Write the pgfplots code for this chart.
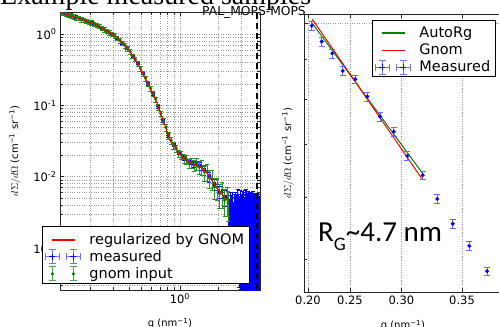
\documentclass[border=0pt]{standalone}
\usepackage{pgfplots}
\pgfplotsset{compat=1.18}
\usepackage{pgfplotstable}
\usepackage{fontspec}
\setmainfont{DejaVu Sans}
\newfontfamily\titlefont{Liberation Serif}
\newfontfamily\calfont{Carlito}
\definecolor{mplblue}{rgb}{0,0,1}
\definecolor{mplgreen}{rgb}{0,0.5,0}
\definecolor{mplred}{rgb}{1,0,0}

% regularized by GNOM (left)
\pgfplotstableread{
q I
0.1175 2.02
0.1230 1.963
0.1288 1.905
0.1349 1.849
0.1413 1.795
0.1479 1.744
0.1549 1.694
0.1622 1.648
0.1698 1.603
0.1778 1.560
0.1862 1.517
0.1950 1.476
0.2042 1.435
0.2138 1.396
0.2239 1.337
0.2344 1.274
0.2455 1.213
0.2570 1.156
0.2692 1.102
0.2818 1.048
0.2951 0.998
0.3090 0.951
0.3236 0.879
0.3388 0.809
0.3548 0.745
0.3715 0.686
0.3890 0.631
0.4074 0.564
0.4266 0.497
0.4467 0.439
0.4677 0.388
0.4898 0.331
0.5129 0.281
0.5370 0.239
0.5623 0.202
0.5888 0.1714
0.6166 0.1452
0.6457 0.1211
0.6761 0.0962
0.7079 0.0766
0.7413 0.0607
0.7762 0.0481
0.8128 0.0381
0.8511 0.0316
0.8913 0.0279
0.9333 0.0246
0.9772 0.0217
1.0233 0.0197
1.0715 0.0184
1.1220 0.01718
1.1749 0.0160
1.2303 0.01535
1.2882 0.0149
1.3490 0.01449
1.4125 0.01406
1.4791 0.01318
1.5488 0.01213
1.6218 0.01117
1.6982 0.01007
1.7783 0.00883
1.8621 0.00774
1.9498 0.00684
2.0417 0.00621
2.1380 0.00564
2.2387 0.00512
2.3442 0.00465
2.3820 0.00449
}\gnomfit

% gnom input (left)
\pgfplotstableread{
q I e
0.1175 2.04 0.07
0.1230 1.95 0.07
0.1288 1.92 0.07
0.1349 1.84 0.07
0.1413 1.80 0.07
0.1479 1.75 0.07
0.1549 1.69 0.07
0.1622 1.66 0.07
0.1698 1.60 0.07
0.1778 1.57 0.07
0.1862 1.51 0.07
0.1950 1.48 0.07
0.2042 1.44 0.07
0.2138 1.39 0.07
0.2239 1.34 0.07
0.2344 1.28 0.07
0.2455 1.21 0.07
0.2570 1.16 0.07
0.2692 1.10 0.07
0.2818 1.05 0.07
0.2951 0.995 0.07
0.3090 0.955 0.07
0.3236 0.875 0.07
0.3388 0.812 0.07
0.3548 0.742 0.07
0.3715 0.690 0.07
0.3890 0.628 0.07
0.4074 0.567 0.07
0.4266 0.494 0.07
0.4467 0.441 0.07
0.4677 0.386 0.07
0.4898 0.333 0.08
0.5129 0.279 0.08
0.5370 0.241 0.08
0.5623 0.200 0.08
0.5888 0.1730 0.08
0.6166 0.1440 0.08
0.6457 0.1222 0.08
0.6761 0.0955 0.09
0.7079 0.0772 0.09
0.7413 0.0600 0.09
0.7762 0.0488 0.10
0.8128 0.0376 0.10
0.8511 0.0321 0.11
0.8913 0.0274 0.11
0.9333 0.0250 0.12
0.9772 0.0213 0.12
1.0233 0.0201 0.13
1.0715 0.0180 0.13
1.1220 0.0176 0.14
1.1749 0.0155 0.15
1.2303 0.0158 0.16
1.2882 0.0144 0.17
1.3490 0.0151 0.19
1.4125 0.0136 0.21
1.4791 0.0138 0.23
1.5488 0.0117 0.25
1.6218 0.0118 0.27
1.6982 0.0096 0.29
1.7783 0.0093 0.31
1.8621 0.0072 0.33
1.9498 0.0071 0.35
2.0417 0.0058 0.37
2.1380 0.0060 0.39
2.2387 0.0047 0.41
2.3442 0.0049 0.43
2.3820 0.0043 0.45
}\gnominput

% measured (left)
\pgfplotstableread{
q I ex ey
0.1175 2.07 0.02 0.04
0.1288 1.95 0.02 0.04
0.1413 1.83 0.02 0.04
0.1549 1.72 0.02 0.04
0.1698 1.63 0.02 0.04
0.1862 1.54 0.02 0.04
0.2042 1.45 0.02 0.04
0.2239 1.35 0.02 0.04
0.2455 1.22 0.02 0.04
0.2692 1.11 0.02 0.04
0.2951 1.00 0.02 0.04
0.3236 0.885 0.02 0.04
0.3548 0.748 0.02 0.04
0.3890 0.634 0.02 0.04
0.4266 0.500 0.02 0.04
0.4677 0.390 0.02 0.04
0.5129 0.283 0.02 0.04
0.5623 0.203 0.02 0.04
0.6166 0.1460 0.02 0.05
0.6761 0.0970 0.02 0.05
0.7413 0.0612 0.02 0.05
0.8128 0.0384 0.02 0.06
0.8913 0.0281 0.02 0.06
0.9772 0.0219 0.02 0.07
1.0715 0.0186 0.02 0.08
1.1749 0.0162 0.02 0.09
1.2882 0.0150 0.02 0.10
1.4125 0.0142 0.02 0.12
1.5488 0.0122 0.02 0.14
1.6982 0.0101 0.02 0.16
1.8621 0.0078 0.02 0.18
2.0417 0.0062 0.02 0.20
2.2387 0.0051 0.02 0.25
2.40 0.0036 0.01 0.55
2.43 0.0030 0.01 0.60
2.46 0.0039 0.01 0.55
2.49 0.0028 0.01 0.65
2.52 0.0034 0.01 0.60
2.55 0.0031 0.01 0.65
2.58 0.0037 0.01 0.65
2.61 0.0026 0.01 0.70
2.64 0.0033 0.01 0.70
2.67 0.0029 0.01 0.75
2.70 0.0035 0.01 0.75
2.73 0.0027 0.01 0.80
2.76 0.0032 0.01 0.80
2.79 0.0030 0.01 0.80
2.82 0.0036 0.01 0.85
2.85 0.0025 0.01 0.85
2.88 0.0031 0.01 0.85
2.91 0.0028 0.01 0.90
2.94 0.0034 0.01 0.90
2.97 0.0026 0.01 0.90
3.00 0.0030 0.01 0.92
3.03 0.0027 0.01 0.92
3.06 0.0033 0.01 0.92
3.09 0.0025 0.01 0.94
3.12 0.0029 0.01 0.94
3.15 0.0031 0.01 0.94
3.18 0.0026 0.01 0.95
3.21 0.0033 0.01 0.95
3.24 0.0028 0.01 0.95
3.27 0.0024 0.01 0.96
3.30 0.0034 0.01 0.96
3.33 0.0027 0.01 0.96
3.36 0.0030 0.01 0.96
3.39 0.0025 0.01 0.97
3.42 0.0032 0.01 0.97
3.45 0.0028 0.01 0.97
3.48 0.0023 0.01 0.97
3.51 0.0030 0.01 0.97
3.54 0.0026 0.01 0.97
3.57 0.0031 0.01 0.97
3.60 0.0024 0.01 0.97
3.63 0.0029 0.01 0.97
3.66 0.0027 0.01 0.97
3.69 0.0032 0.01 0.97
3.72 0.0022 0.01 0.97
3.75 0.0028 0.01 0.97
3.78 0.0025 0.01 0.97
3.81 0.0030 0.01 0.97
3.84 0.0023 0.01 0.97
3.87 0.0027 0.01 0.97
3.90 0.0029 0.01 0.97
3.93 0.0024 0.01 0.97
3.96 0.0026 0.01 0.97
3.99 0.0030 0.01 0.97
4.02 0.0023 0.01 0.97
4.05 0.0027 0.01 0.97
4.08 0.0025 0.01 0.97
4.11 0.0029 0.01 0.97
4.14 0.0024 0.01 0.97
4.17 0.0026 0.01 0.97
}\measured

% Guinier region (right)
\pgfplotstableread{
q I e
0.2049 0.992 0.013
0.2176 0.947 0.013
0.2303 0.915 0.013
0.2421 0.869 0.013
0.2556 0.848 0.013
0.2679 0.806 0.013
0.2803 0.760 0.013
0.2931 0.727 0.013
0.3053 0.677 0.013
0.3185 0.640 0.013
0.3305 0.597 0.013
0.3428 0.555 0.013
0.3555 0.520 0.013
0.3686 0.483 0.013
}\guinier

\pgfplotstableread{
q I
0.2057 0.999
0.3195 0.640
}\autorg

\pgfplotstableread{
q I
0.2057 1.011
0.3176 0.634
}\gnomline

\pgfplotsset{
  log number format basis/.code 2 args={#1\textsuperscript{\pgfmathprintnumber[assume math mode=true]{#2}}},
}
\newcommand{\legline}[1]{\hspace*{-37pt}\textcolor{#1}{\rule[0.24em]{23pt}{1.2pt}}\hspace*{14pt}}
\pgfplotsset{
  dummyimg/.style={legend image code/.code={%
    \path[draw=white, line width=0.1pt] (0pt,0pt)--(0.1pt,0pt);}},
  blankimg/.style={legend image code/.code={%
    \path[draw=none, fill=none] (-8pt,-8pt) rectangle (30pt,8pt);}},
  redlineimg/.style={legend image code/.code={%
    \path[draw=none, fill=none] (-8pt,-8pt) rectangle (30pt,8pt);
    \path[fill=mplred, draw=none] (0pt,-0.6pt) rectangle (23pt,0.6pt);}},
  measuredimg/.style={legend image code/.code={%
    \path[draw=none, fill=none] (-8pt,-8pt) rectangle (30pt,8pt);
    \foreach \xx in {0pt,21pt}{
      \draw[draw=mplblue!55, line width=0.6pt] (\xx-7pt,0pt)--(\xx+7pt,0pt) (\xx,-7pt)--(\xx,7pt)
        (\xx-7pt,-3.5pt)--(\xx-7pt,3.5pt) (\xx+7pt,-3.5pt)--(\xx+7pt,3.5pt)
        (\xx-3.5pt,-7pt)--(\xx+3.5pt,-7pt) (\xx-3.5pt,7pt)--(\xx+3.5pt,7pt);
      \draw[draw=mplblue, line width=1pt] (\xx-3pt,0pt)--(\xx+3pt,0pt) (\xx,-3pt)--(\xx,3pt);
    }}},
  gnomimg/.style={legend image code/.code={%
    \path[draw=none, fill=none] (-8pt,-8pt) rectangle (30pt,8pt);
    \foreach \xx in {0pt,21pt}{
      \draw[draw=mplgreen!70, line width=0.6pt] (\xx,-7pt)--(\xx,7pt)
        (\xx-3.5pt,-7pt)--(\xx+3.5pt,-7pt) (\xx-3.5pt,7pt)--(\xx+3.5pt,7pt);
      \path[draw=none, fill=mplgreen] (\xx,0pt) circle (1.8pt);
    }}},
  mystyle/.style={
    scale only axis,
    clip marker paths=true,
    axis line style={line width=0.9pt, black!85},
    tick style={black!85, line width=0.6pt},
    tick label style={font=\fontsize{11.5}{13}\selectfont},
    label style={font=\fontsize{11.5}{13}\selectfont},
    legend cell align=left,
    legend style={font=\fontsize{14.5}{16}\selectfont, line width=0.9pt,
      inner xsep=2pt, inner ysep=1.5pt, column sep=4pt, row sep=1pt,
      nodes={inner xsep=3pt, inner ysep=2pt}},
  }
}

\begin{document}
\begin{tikzpicture}
% titles (drawn first; spines cross them)
\node[anchor=base west, inner sep=0pt] at (0pt,322pt) {\titlefont\fontsize{28}{30}\selectfont Example measured samples};
\node[anchor=base, inner sep=0pt] at (254pt,311pt) {\fontsize{12.3}{14}\selectfont PAL\_MOPS-MOPS};

% left plot
\begin{axis}[mystyle,
  at={(60pt,37pt)}, anchor=south west, width=200pt, height=278pt,
  xmode=log, ymode=log,
  xmin=0.1155, xmax=4.217, ymin=2.57e-4, ymax=2.04,
  xtick={0.01,0.1,1,10}, ytick={1e-4,1e-3,1e-2,1e-1,1},
  grid=both, major grid style={dotted, gray!80, line width=0.5pt},
  minor grid style={dotted, gray!80, line width=0.5pt},
  xlabel={q (nm\textsuperscript{−1})},
  ylabel={$d\Sigma/d\Omega$ (cm\textsuperscript{−1} sr\textsuperscript{−1})},
  every axis x label/.style={at={(axis description cs:0.55,-0.088)}, anchor=north},
  every axis y label/.style={at={(axis description cs:-0.225,0.5)}, rotate=90, anchor=center},
  legend style={at={(-0.09,0.0216)}, anchor=south west, row sep=0.5pt},
]
\addplot[only marks, mark=+, mark size=2pt, mplblue, forget plot,
  error bars/.cd, x dir=both, x explicit relative, y dir=both, y explicit relative,
  error bar style={mplblue, line width=0.6pt},
  error mark options={rotate=90, mark size=2pt, mplblue}]
  table[x=q, y=I, x error=ex, y error=ey] {\measured};
\addplot[only marks, mark=*, mark size=1.5pt, mplgreen, forget plot,
  error bars/.cd, y dir=both, y explicit relative,
  error bar style={mplgreen!85, line width=0.6pt},
  error mark options={rotate=90, mark size=2.2pt, mplgreen!85}]
  table[x=q, y=I, y error=e] {\gnominput};
\addplot[mplred, line width=1pt, forget plot] table[x=q, y=I] {\gnomfit};
\addplot[black, line width=2pt, dash pattern=on 6pt off 4pt, forget plot]
  coordinates {(4.0,1e-4) (4.0,10)};
\addlegendimage{dummyimg}
\addlegendentry[inner sep=0pt, minimum height=0pt, font=\fontsize{1}{1}\selectfont]{}
\addlegendimage{dummyimg}
\addlegendentry[inner sep=0pt, minimum height=0pt, font=\fontsize{1}{1}\selectfont]{}
\addlegendimage{redlineimg}
\addlegendentry{\legline{mplred}regularized by GNOM}
\addlegendimage{measuredimg}
\addlegendentry{measured}
\addlegendimage{gnomimg}
\addlegendentry{gnom input}
\end{axis}

% right plot (Guinier: x axis linear in q^2)
\begin{axis}[mystyle,
  at={(304pt,35pt)}, anchor=south west, width=206pt, height=278pt,
  ymode=log,
  xmin=0.03786, xmax=0.14819, ymin=0.4543, ymax=1.0267,
  xtick={0.04,0.0625,0.09,0.1225}, xticklabels={0.20,0.25,0.30,0.35},
  ytick={1}, yticklabels={}, minor ytick={0.5,0.6,0.7,0.8,0.9},
  grid=major, major grid style={dotted, gray!80, line width=0.5pt},
  xlabel={q (nm\textsuperscript{−1})},
  ylabel={$d\Sigma/d\Omega$ (cm\textsuperscript{−1} sr\textsuperscript{−1})},
  every axis x label/.style={at={(axis description cs:0.48,-0.088)}, anchor=north},
  every axis y label/.style={at={(axis description cs:-0.078,0.5)}, rotate=90, anchor=center},
  legend style={at={(0.330,0.978)}, anchor=north west},
]
\addplot[mplgreen, line width=1pt, forget plot] table[x expr=\thisrow{q}^2, y=I] {\autorg};
\addplot[mplred, line width=1pt, forget plot] table[x expr=\thisrow{q}^2, y=I] {\gnomline};
\addplot[only marks, mark=*, mark size=1.8pt, mplblue, forget plot,
  error bars/.cd, y dir=both, y explicit relative,
  error bar style={mplblue!60, line width=0.6pt},
  error mark options={rotate=90, mark size=3pt, mplblue!60}]
  table[x expr=\thisrow{q}^2, y=I, y error=e] {\guinier};
\addlegendimage{dummyimg}
\addlegendentry[inner sep=0pt, minimum height=0pt, font=\fontsize{1}{1}\selectfont]{}
\addlegendimage{blankimg}
\addlegendentry{\legline{mplgreen}AutoRg}
\addlegendimage{blankimg}
\addlegendentry{\legline{mplred}Gnom}
\addlegendimage{measuredimg}
\addlegendentry{Measured}
\end{axis}

\node[anchor=base west, inner sep=0pt] at (318pt,85pt)
  {\calfont\fontsize{29}{32}\selectfont R\raisebox{-0.28em}{\fontsize{19}{20}\selectfont G}\textasciitilde 4.7 nm};

\pgfresetboundingbox
\useasboundingbox (0pt,0pt) rectangle (499pt,327pt);
\end{tikzpicture}
\end{document}
